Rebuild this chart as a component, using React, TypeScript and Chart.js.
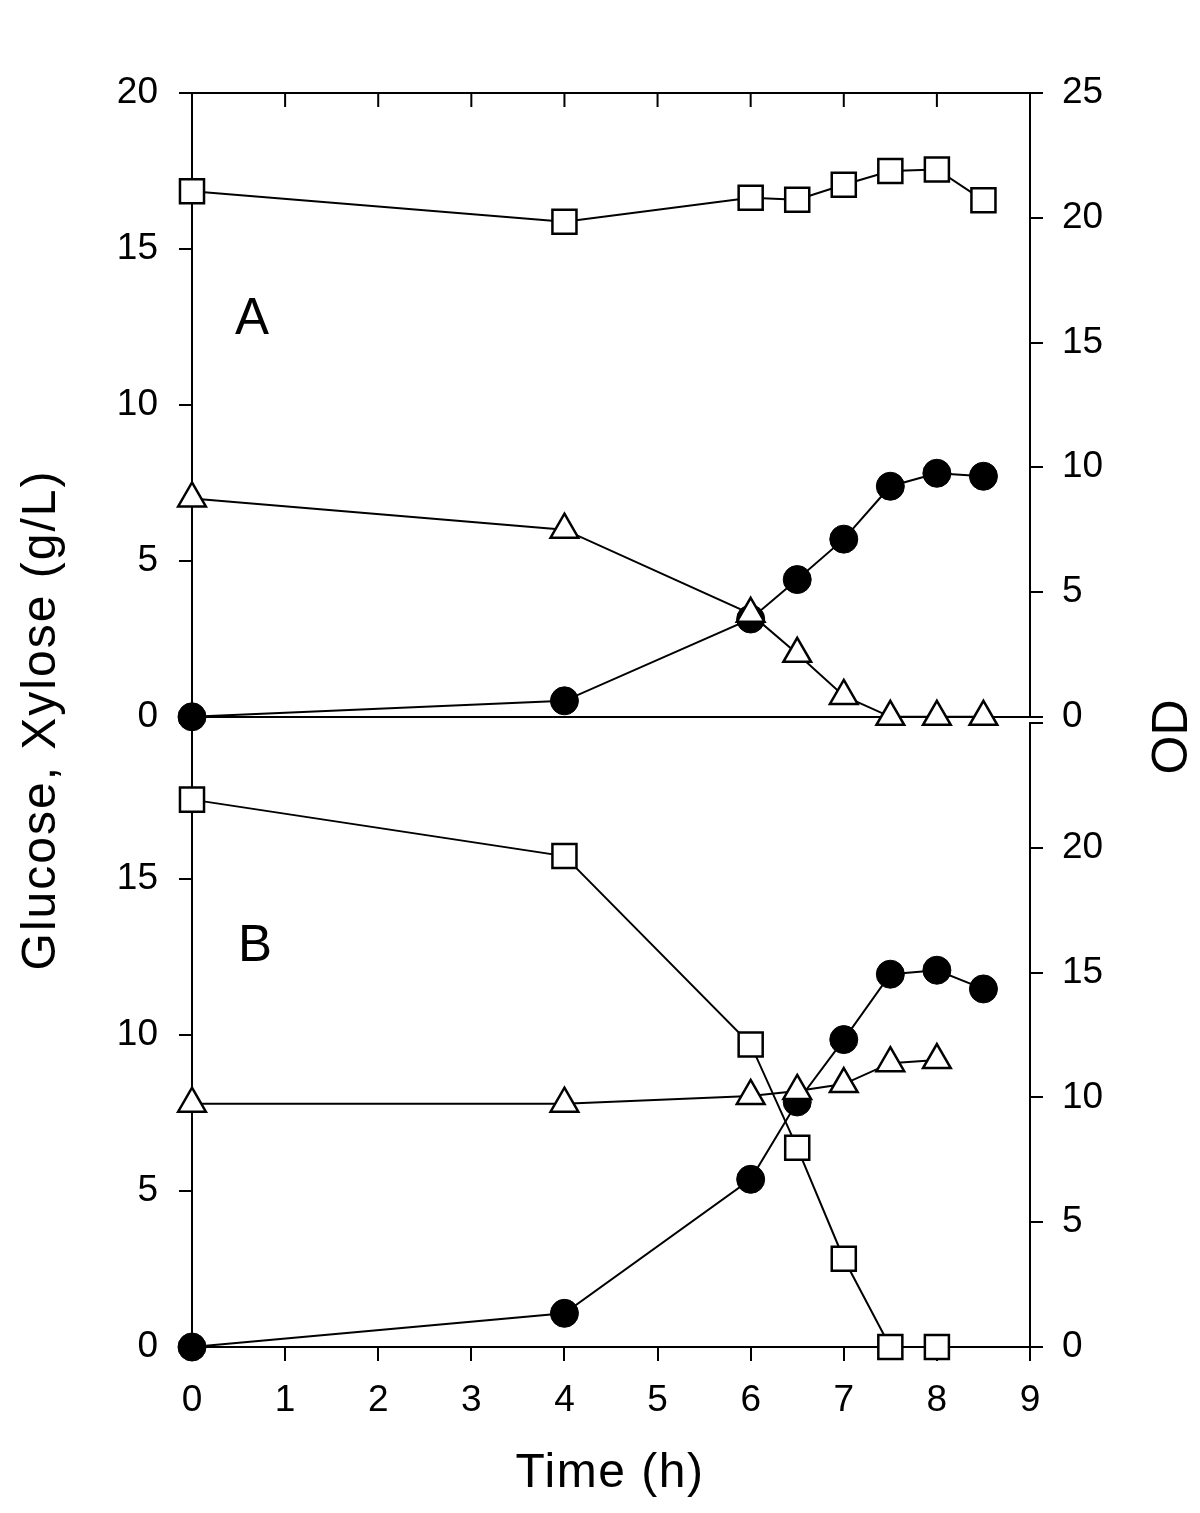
import React, { useEffect, useRef } from 'react';
import { Chart, registerables } from 'chart.js';
Chart.register(...registerables);

const FONT = "'Liberation Sans', Arial, Helvetica, sans-serif";

// Panel A
const timeA = [0, 4, 6, 6.5, 7, 7.5, 8, 8.5];
const glucoseA = [16.85, 15.87, 16.64, 16.58, 17.06, 17.5, 17.55, 16.56];
const xyloseA = [7.0, 6.0, 3.3, 2.02, 0.67, 0, 0, 0];
const odA = [0, 0.64, 3.92, 5.5, 7.12, 9.24, 9.76, 9.64];

// Panel B
const timeB = [0, 4, 6, 6.5, 7, 7.5, 8, 8.5];
const glucoseB = [17.55, 15.74, 9.7, 6.39, 2.83, 0, 0];
const xyloseB = [7.8, 7.8, 8.05, 8.21, 8.43, 9.1, 9.2];
const odB = [0, 1.35, 6.72, 9.82, 12.32, 14.94, 15.1, 14.35];

const xTicks = [0, 1, 2, 3, 4, 5, 6, 7, 8, 9];
const leftTicks = [0, 5, 10, 15, 20];
const rightTicks = [0, 5, 10, 15, 20, 25];

const pts = (xs: number[], ys: number[]) => ys.map((y, i) => ({ x: xs[i], y }));

const squareStyle = {
  yAxisID: 'yL', pointStyle: 'rect', pointRadius: 17, pointBackgroundColor: '#fff',
  pointBorderColor: '#000', pointBorderWidth: 2.5, borderColor: '#000', borderWidth: 2, clip: false,
};
const triStyle = {
  yAxisID: 'yL', pointStyle: 'triangle', pointRadius: 16, pointBackgroundColor: '#fff',
  pointBorderColor: '#000', pointBorderWidth: 2.5, borderColor: '#000', borderWidth: 2, clip: false,
};
const circStyle = {
  yAxisID: 'yR', pointStyle: 'circle', pointRadius: 14, pointBackgroundColor: '#000',
  pointBorderColor: '#000', pointBorderWidth: 1, borderColor: '#000', borderWidth: 2, clip: false,
};

const topFrame = {
  id: 'topFrame',
  beforeDatasetsDraw(chart: any, _args: any, opts: any) {
    if (!opts || !opts.enabled) return;
    const { ctx, chartArea, scales } = chart;
    ctx.save();
    ctx.strokeStyle = '#000';
    ctx.lineWidth = 2;
    ctx.beginPath();
    ctx.moveTo(chartArea.left, chartArea.top);
    ctx.lineTo(chartArea.right, chartArea.top);
    xTicks.forEach((v) => {
      const px = scales.x.getPixelForValue(v);
      ctx.moveTo(px, chartArea.top);
      ctx.lineTo(px, chartArea.top + 14);
    });
    ctx.stroke();
    ctx.restore();
  },
};

function yScale(position: 'left' | 'right', ticks: number[], hideTop: boolean, width: number) {
  const top = ticks[ticks.length - 1];
  return {
    type: 'linear',
    position,
    min: ticks[0],
    max: top,
    afterFit: (s: any) => { s.width = width; },
    ticks: {
      stepSize: ticks[1] - ticks[0],
      color: '#000',
      font: { family: FONT, size: 37 },
      padding: position === 'left' ? 21 : 19,
      callback: (v: number) => (hideTop && v === top ? '' : String(v)),
    },
    grid: { display: true, drawOnChartArea: false, drawTicks: true, tickLength: 13, color: '#000', lineWidth: 2 },
    border: { display: true, color: '#000', width: 2 },
  };
}

function makeConfig(panel: 'A' | 'B'): any {
  const isA = panel === 'A';
  const datasets = isA
    ? [
        { ...squareStyle, data: pts(timeA, glucoseA) },
        { ...triStyle, data: pts(timeA, xyloseA) },
        { ...circStyle, data: pts(timeA, odA) },
      ]
    : [
        { ...squareStyle, data: pts(timeB, glucoseB) },
        { ...triStyle, data: pts(timeB, xyloseB) },
        { ...circStyle, data: pts(timeB, odB) },
      ];
  return {
    type: 'line',
    data: { datasets },
    plugins: [topFrame],
    options: {
      animation: false,
      responsive: false,
      devicePixelRatio: 1,
      events: [],
      layout: { padding: isA ? { top: 93, bottom: 42, left: 0, right: 0 } : { top: 38, bottom: 0, left: 0, right: 0 } },
      plugins: { legend: { display: false }, tooltip: { enabled: false }, topFrame: { enabled: isA } },
      scales: {
        x: isA
          ? {
              type: 'linear', position: 'bottom', min: xTicks[0], max: xTicks[xTicks.length - 1],
              afterFit: (s: any) => { s.height = 0; },
              ticks: { display: false },
              grid: { display: true, drawOnChartArea: false, drawTicks: false },
              border: { display: true, color: '#000', width: 2 },
            }
          : {
              type: 'linear', position: 'bottom', min: xTicks[0], max: xTicks[xTicks.length - 1],
              afterFit: (s: any) => { s.height = 166; },
              ticks: { stepSize: 1, color: '#000', font: { family: FONT, size: 37 }, padding: 18, maxRotation: 0 },
              grid: { display: true, drawOnChartArea: false, drawTicks: true, tickLength: 14, color: '#000', lineWidth: 2 },
              border: { display: true, color: '#000', width: 2 },
            },
        yL: yScale('left', leftTicks, !isA, 192),
        yR: yScale('right', rightTicks, !isA, 170),
      },
    },
  };
}

const textBase: React.CSSProperties = {
  position: 'absolute', fontFamily: FONT, color: '#000', whiteSpace: 'nowrap',
  textAlign: 'center', height: 60, lineHeight: '60px',
};

export default function App() {
  const ref1 = useRef<HTMLCanvasElement>(null);
  const ref2 = useRef<HTMLCanvasElement>(null);
  useEffect(() => {
    const c1 = new Chart(ref1.current as HTMLCanvasElement, makeConfig('A'));
    const c2 = new Chart(ref2.current as HTMLCanvasElement, makeConfig('B'));
    return () => { c1.destroy(); c2.destroy(); };
  }, []);
  return (
    <div style={{ position: 'absolute', left: 0, top: 0, width: 1200, height: 1513, background: '#fff', overflow: 'hidden' }}>
      <canvas ref={ref1} width={1200} height={760} style={{ position: 'absolute', left: 0, top: 0, width: 1200, height: 760 }} />
      <canvas ref={ref2} width={1200} height={833} style={{ position: 'absolute', left: 0, top: 680, width: 1200, height: 833 }} />
      <div style={{ ...textBase, left: 39 - 300, top: 720 - 30, width: 600, fontSize: 48, letterSpacing: 2, transform: 'rotate(-90deg)' }}>
        Glucose, Xylose (g/L)
      </div>
      <div style={{ ...textBase, left: 1170 - 100, top: 737 - 30, width: 200, fontSize: 50, transform: 'rotate(-90deg)' }}>
        OD
      </div>
      <div style={{ ...textBase, left: 610 - 200, top: 1471 - 30, width: 400, fontSize: 48, letterSpacing: 1.5 }}>
        Time (h)
      </div>
      <div style={{ ...textBase, textAlign: 'left', left: 235, top: 317 - 30, width: 100, fontSize: 51 }}>A</div>
      <div style={{ ...textBase, textAlign: 'left', left: 238, top: 944 - 30, width: 100, fontSize: 51 }}>B</div>
    </div>
  );
}
